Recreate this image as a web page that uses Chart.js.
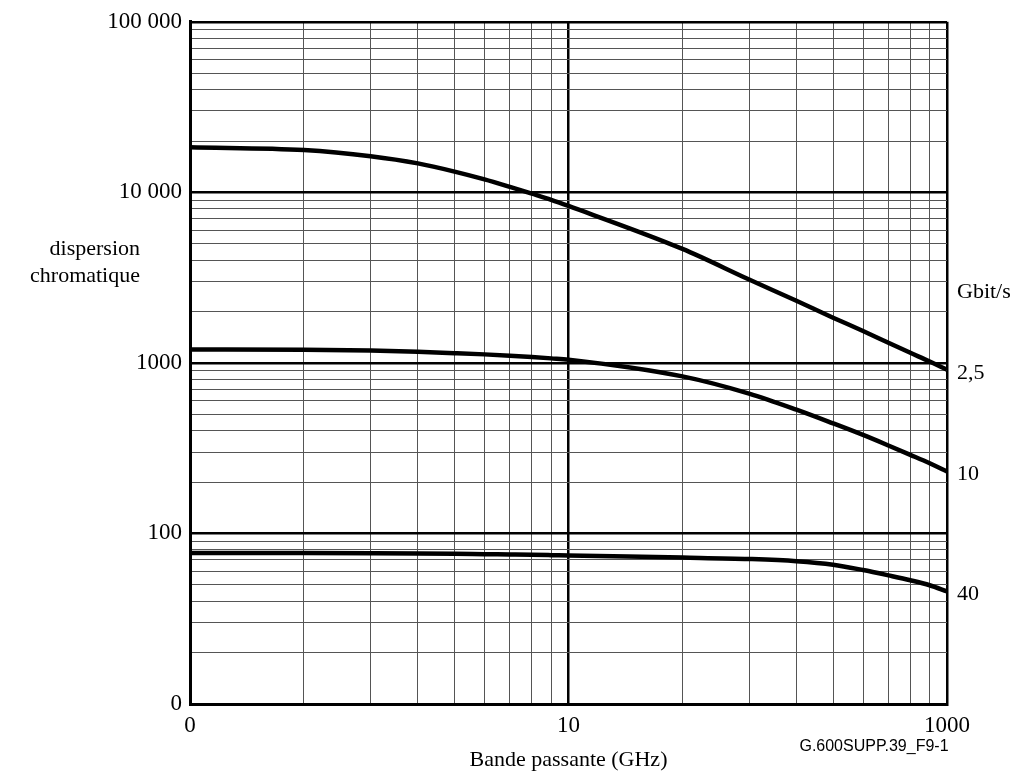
<!DOCTYPE html>
<html>
<head>
<meta charset="utf-8">
<script src="https://cdn.jsdelivr.net/npm/chart.js@4/dist/chart.umd.min.js"></script>
<style>
    body { margin: 0; background: #fff; }
    #wrap { width: 1017px; height: 771px; position: relative; }
</style>
</head>
<body>
<div id="wrap"><canvas id="dispChart"></canvas></div>
<script>
// bandwidth (GHz) sample points, read at the grid lines
const bandwidth = [1, 2, 3, 4, 5, 6, 7, 8, 9, 10, 20, 30, 40, 50, 60, 70, 80, 90, 100];

// chromatic dispersion per bit rate
const disp25 = [18370, 17700, 16290, 14790, 13240, 11910, 10760, 9820, 9040, 8320, 4660, 3083, 2312, 1841, 1538, 1312, 1146, 1019, 912];
const disp10 = [1200, 1196, 1183, 1162, 1141, 1122, 1102, 1082, 1063, 1045, 834, 661, 532, 442, 378, 328, 289, 258, 231];
const disp40 = [76.9, 76.7, 76.5, 76.3, 76.0, 75.6, 75.3, 75.0, 74.6, 74.2, 72.2, 70.8, 68.8, 65.6, 61.0, 56.8, 53.2, 49.7, 45.7];

const rateLabels = ["2,5", "10", "40"];
const rateUnit = "Gbit/s";

// grid / tick positions
const xTicks = [1, 2, 3, 4, 5, 6, 7, 8, 9, 10, 20, 30, 40, 50, 60, 70, 80, 90, 100];
const yTicks = [10, 20, 30, 40, 50, 60, 70, 80, 90,
    100, 200, 300, 400, 500, 600, 700, 800, 900,
    1000, 2000, 3000, 4000, 5000, 6000, 7000, 8000, 9000,
    10000, 20000, 30000, 40000, 50000, 60000, 70000, 80000, 90000, 100000];
const xTickLabels = { 1: "0", 10: "10", 100: "1000" };
const yTickLabels = { 10: "0", 100: "100", 1000: "1000", 10000: "10 000", 100000: "100 000" };

const yTitle = ["dispersion", "chromatique"];
const xTitle = "Bande passante (GHz)";
const figId = "G.600SUPP.39_F9-1";

const serif = '"Liberation Serif", "Times New Roman", serif';

function isDecade(v) {
    const l = Math.log10(v);
    return Math.abs(l - Math.round(l)) < 1e-9;
}

function toPoints(ys) {
    return bandwidth.map((x, i) => ({ x: x, y: ys[i] }));
}

const gridStyle = {
    color: (ctx) => isDecade(ctx.tick.value) ? "#000" : "#555",
    lineWidth: (ctx) => isDecade(ctx.tick.value) ? 2.5 : 1,
    drawTicks: false
};

const sideLabels = {
    id: "sideLabels",
    afterDraw(chart) {
        const c = chart.ctx;
        const ys = chart.scales.y;
        const area = chart.chartArea;
        c.save();
        c.fillStyle = "#000";
        c.font = "22px " + serif;
        c.textBaseline = "middle";

        // y title sits right aligned, left of the tick labels
        c.textAlign = "right";
        c.fillText(yTitle[0], 140, 249);
        c.fillText(yTitle[1], 140, 276);

        c.textAlign = "center";
        c.fillText(xTitle, (area.left + area.right) / 2, 760);

        c.textAlign = "left";
        c.fillText(rateUnit, area.right + 10, 292);
        const ends = [disp25, disp10, disp40];
        ends.forEach((arr, i) => {
            const py = ys.getPixelForValue(arr[arr.length - 1]);
            c.fillText(rateLabels[i], area.right + 10, py + 3);
        });

        c.font = '16px "Liberation Sans", Arial, sans-serif';
        c.textAlign = "center";
        c.fillText(figId, 874, 747);
        c.restore();
    }
};

const lineStyle = {
    borderColor: "#000",
    borderWidth: 4.5,
    pointRadius: 0,
    fill: false,
    cubicInterpolationMode: "monotone"
};

new Chart(document.getElementById("dispChart"), {
    type: "line",
    data: {
        datasets: [
            Object.assign({ label: "2,5", data: toPoints(disp25) }, lineStyle),
            Object.assign({ label: "10", data: toPoints(disp10) }, lineStyle),
            Object.assign({ label: "40", data: toPoints(disp40) }, lineStyle)
        ]
    },
    options: {
        responsive: true,
        maintainAspectRatio: false,
        animation: false,
        layout: { padding: { left: 0, right: 70, top: 19, bottom: 0 } },
        plugins: {
            legend: { display: false },
            tooltip: { enabled: false }
        },
        scales: {
            x: {
                type: "logarithmic",
                min: 1,
                max: 100,
                afterBuildTicks: (scale) => { scale.ticks = xTicks.map(v => ({ value: v })); },
                afterFit: (scale) => { scale.height = 67; },
                ticks: {
                    autoSkip: false,
                    maxRotation: 0,
                    color: "#000",
                    padding: 8,
                    font: { family: serif, size: 23 },
                    callback: (v) => xTickLabels[v] || ""
                },
                grid: gridStyle,
                border: { display: true, color: "#000", width: 3 }
            },
            y: {
                type: "logarithmic",
                min: 10,
                max: 100000,
                afterBuildTicks: (scale) => { scale.ticks = yTicks.map(v => ({ value: v })); },
                afterFit: (scale) => { scale.width = 190; },
                ticks: {
                    autoSkip: false,
                    color: "#000",
                    padding: 8,
                    font: { family: serif, size: 23 },
                    callback: (v) => yTickLabels[v] || ""
                },
                grid: gridStyle,
                border: { display: true, color: "#000", width: 3 }
            }
        }
    },
    plugins: [sideLabels]
});
</script>
</body>
</html>
